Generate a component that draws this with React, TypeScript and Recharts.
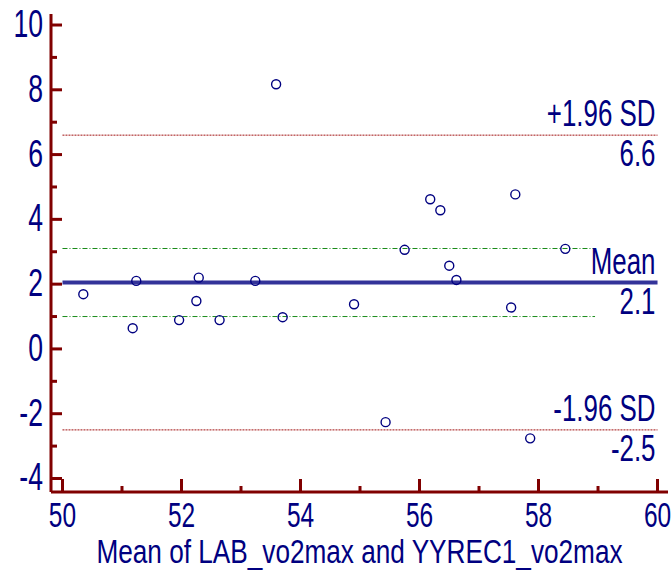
import React from 'react';
import { ScatterChart, Scatter, XAxis, YAxis, ReferenceLine } from 'recharts';

// Bland-Altman: mean of the two methods (x) vs difference (y)
const meanValues = [
  50.35, 51.18, 51.24, 51.96, 52.25, 52.29, 52.64, 53.24, 53.59, 53.7, 54.9,
  55.43, 55.75, 56.18, 56.35, 56.5, 56.62, 57.54, 57.61, 57.86, 58.45,
];
const diffValues = [
  1.69, 0.64, 2.1, 0.89, 1.48, 2.2, 0.89, 2.1, 8.17, 0.98, 1.38,
  -2.26, 3.06, 4.62, 4.28, 2.57, 2.13, 1.28, 4.77, -2.76, 3.09,
];

const xTicks = [50, 51, 52, 53, 54, 55, 56, 57, 58, 59, 60];
const yTicks = [-4, -3, -2, -1, 0, 1, 2, 3, 4, 5, 6, 7, 8, 9, 10];

const upperLimit = 6.6;
const meanDiff = 2.05;
const lowerLimit = -2.5;
const ciUpper = 3.1;
const ciLower = 1.0;
const ciEnd = 58.95;

const upperLabels = ['+1.96 SD', '6.6'];
const meanLabels = ['Mean', '2.1'];
const lowerLabels = ['-1.96 SD', '-2.5'];

const AXIS = '#800000';
const NAVY = '#000080';
const FONT = '"Liberation Sans", Arial, sans-serif';

const points = meanValues.map((x, i) => ({ x, y: diffValues[i] }));

function Txt({ x, y, size, anchor, children }: any) {
  return (
    <text
      transform={`translate(${x},${y}) scale(0.7,1)`}
      x={0}
      y={0}
      textAnchor={anchor}
      fontSize={size}
      fontFamily={FONT}
      fill={NAVY}
    >
      {children}
    </text>
  );
}

function YTick({ x, y, payload }: any) {
  const v = payload.value;
  const major = v % 2 === 0;
  return (
    <g>
      <line x1={x} x2={x + (major ? 11 : 6)} y1={y} y2={y} stroke={AXIS} strokeWidth={3} />
      {major && (
        <Txt x={x - 8} y={y + 12} size={38} anchor="end">
          {v}
        </Txt>
      )}
    </g>
  );
}

function XTick({ x, y, payload }: any) {
  const v = payload.value;
  const major = v % 2 === 0;
  return (
    <g>
      <line x1={x} x2={x} y1={y} y2={y - (major ? 13 : 6)} stroke={AXIS} strokeWidth={3} />
      {major && (
        <Txt x={x} y={y + 35} size={35} anchor="middle">
          {v}
        </Txt>
      )}
    </g>
  );
}

const lineLabel = (labels: string[]) => (props: any) => {
  const vb = props.viewBox || {};
  const right = vb.x + vb.width - 2;
  return (
    <g>
      <Txt x={right} y={vb.y - 9} size={37} anchor="end">
        {labels[0]}
      </Txt>
      <Txt x={right} y={vb.y + 31} size={37} anchor="end">
        {labels[1]}
      </Txt>
    </g>
  );
};

const axisTitle = (props: any) => {
  const vb = props.viewBox || {};
  return (
    <text
      transform={`translate(${vb.x + vb.width / 2},${vb.y + 71}) scale(0.77,1)`}
      textAnchor="middle"
      fontSize={34}
      fontFamily={FONT}
      fill={NAVY}
    >
      Mean of LAB_vo2max and YYREC1_vo2max
    </text>
  );
};

const Circle = (p: any) => (
  <circle cx={p.cx} cy={p.cy} r={4.5} fill="none" stroke={NAVY} strokeWidth={1.4} />
);

export default function App() {
  return (
    <div style={{ position: 'absolute', left: 0, top: 0, background: '#fff' }}>
      <ScatterChart width={671} height={575} margin={{ top: 14, right: 3, bottom: 0, left: 0 }}>
        <XAxis
          type="number"
          dataKey="x"
          domain={[49.807, 60.176]}
          allowDataOverflow
          ticks={xTicks}
          interval={0}
          tick={XTick}
          tickLine={false}
          tickSize={0}
          tickMargin={0}
          height={83}
          axisLine={{ stroke: AXIS, strokeWidth: 3 }}
          label={axisTitle}
        />
        <YAxis
          type="number"
          dataKey="y"
          domain={[-4.417, 10.34]}
          allowDataOverflow
          ticks={yTicks}
          interval={0}
          tick={YTick}
          tickLine={false}
          tickSize={0}
          tickMargin={0}
          width={51}
          axisLine={{ stroke: AXIS, strokeWidth: 3 }}
        />
        <XAxis
          xAxisId="top"
          orientation="top"
          type="number"
          domain={[49.807, 60.176]}
          tick={false}
          tickLine={false}
          height={0}
          axisLine={{ stroke: AXIS, strokeWidth: 3 }}
        />
        <YAxis
          yAxisId="right"
          orientation="right"
          type="number"
          domain={[-4.417, 10.34]}
          tick={false}
          tickLine={false}
          width={0}
          axisLine={{ stroke: AXIS, strokeWidth: 3 }}
        />
        <ReferenceLine
          segment={[{ x: 50, y: upperLimit }, { x: 60, y: upperLimit }]}
          stroke="#a01010"
          strokeWidth={1}
          strokeDasharray="2 1"
          label={lineLabel(upperLabels)}
        />
        <ReferenceLine
          segment={[{ x: 50, y: lowerLimit }, { x: 60, y: lowerLimit }]}
          stroke="#a01010"
          strokeWidth={1}
          strokeDasharray="2 1"
          label={lineLabel(lowerLabels)}
        />
        <ReferenceLine
          segment={[{ x: 50, y: ciUpper }, { x: ciEnd, y: ciUpper }]}
          stroke="#1a8c1a"
          strokeWidth={1}
          strokeDasharray="5 2 1 2"
        />
        <ReferenceLine
          segment={[{ x: 50, y: ciLower }, { x: ciEnd, y: ciLower }]}
          stroke="#1a8c1a"
          strokeWidth={1}
          strokeDasharray="5 2 1 2"
        />
        <ReferenceLine
          segment={[{ x: 50, y: meanDiff }, { x: 60, y: meanDiff }]}
          stroke="#333399"
          strokeWidth={4}
          label={lineLabel(meanLabels)}
        />
        <Scatter data={points} shape={Circle} isAnimationActive={false} />
      </ScatterChart>
    </div>
  );
}
